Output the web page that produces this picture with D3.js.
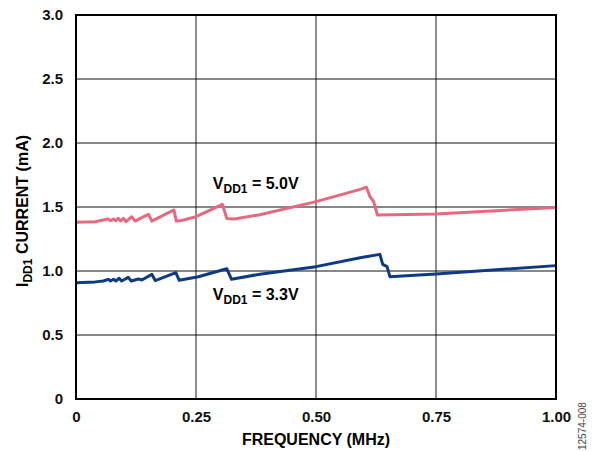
<!DOCTYPE html>
<html>
<head>
<meta charset="utf-8">
<script src="https://cdn.jsdelivr.net/npm/d3@7"></script>
<style>
  body { margin: 0; background: #fff; }
  text { font-family: Arial, "Liberation Sans", sans-serif; }
</style>
</head>
<body>
<div id="chart"></div>
<script>
// frequency (MHz) and IDD1 current (mA)
const freq5V = [0, 0.04, 0.057, 0.067, 0.072, 0.078, 0.083, 0.088, 0.093, 0.099, 0.104, 0.116, 0.123, 0.137, 0.151, 0.158, 0.204, 0.209, 0.22, 0.25, 0.305, 0.314, 0.33, 0.383, 0.5, 0.592, 0.605, 0.6125, 0.62, 0.628, 0.75, 1.0];
const curr5V = [1.38, 1.385, 1.398, 1.406, 1.393, 1.406, 1.393, 1.411, 1.391, 1.411, 1.385, 1.424, 1.39, 1.417, 1.443, 1.39, 1.477, 1.39, 1.395, 1.424, 1.521, 1.411, 1.406, 1.44, 1.542, 1.638, 1.654, 1.581, 1.542, 1.4375, 1.445, 1.497];

const freq33V = [0, 0.04, 0.057, 0.067, 0.072, 0.078, 0.083, 0.09, 0.095, 0.109, 0.115, 0.13, 0.137, 0.158, 0.165, 0.208, 0.215, 0.255, 0.314, 0.324, 0.383, 0.5, 0.592, 0.633, 0.639, 0.648, 0.654, 0.75, 1.0];
const curr33V = [0.909, 0.915, 0.922, 0.935, 0.922, 0.935, 0.922, 0.943, 0.922, 0.95, 0.922, 0.938, 0.93, 0.974, 0.925, 0.987, 0.927, 0.955, 1.018, 0.935, 0.975, 1.034, 1.104, 1.13, 1.052, 1.034, 0.956, 0.977, 1.042];

const xTicks = [0, 0.25, 0.5, 0.75, 1.0];
const xTickLabels = ["0", "0.25", "0.50", "0.75", "1.00"];
const yTicks = [0, 0.5, 1.0, 1.5, 2.0, 2.5, 3.0];
const yTickLabels = ["0", "0.5", "1.0", "1.5", "2.0", "2.5", "3.0"];

const W = 592, H = 451;
const margin = { top: 15, right: 36, bottom: 52, left: 76 };
const width = W - margin.left - margin.right,
      height = H - margin.top - margin.bottom;

const svg = d3.select("#chart").append("svg")
    .attr("width", W).attr("height", H);
const g = svg.append("g")
    .attr("transform", `translate(${margin.left},${margin.top})`);

const x = d3.scaleLinear().domain([0, 1]).range([0, width]);
const y = d3.scaleLinear().domain([0, 3]).range([height, 0]);

// vertical grid
g.selectAll(".vgrid").data(xTicks.slice(1, -1)).enter().append("line")
    .attr("x1", d => x(d)).attr("x2", d => x(d))
    .attr("y1", 0).attr("y2", height)
    .attr("stroke", "#444").attr("stroke-width", 1.2);

// horizontal grid
g.selectAll(".hgrid").data(yTicks.slice(1, -1)).enter().append("line")
    .attr("x1", 0).attr("x2", width)
    .attr("y1", d => y(d)).attr("y2", d => y(d))
    .attr("stroke", "#111").attr("stroke-width", 1.2);

const line = d3.line().x(d => x(d[0])).y(d => y(d[1]));

g.append("path")
    .datum(freq5V.map((f, i) => [f, curr5V[i]]))
    .attr("fill", "none").attr("stroke", "#E8687F")
    .attr("stroke-width", 3).attr("stroke-linejoin", "round")
    .attr("d", line);

g.append("path")
    .datum(freq33V.map((f, i) => [f, curr33V[i]]))
    .attr("fill", "none").attr("stroke", "#0E3A84")
    .attr("stroke-width", 3).attr("stroke-linejoin", "round")
    .attr("d", line);

// frame
g.append("rect")
    .attr("width", width).attr("height", height)
    .attr("fill", "none").attr("stroke", "#000").attr("stroke-width", 2);

// axes labels
const xAxis = d3.axisBottom(x).tickValues(xTicks)
    .tickFormat((d, i) => xTickLabels[i]).tickSize(0).tickPadding(12);
const xg = g.append("g").attr("transform", `translate(0,${height})`).call(xAxis);
xg.select(".domain").remove();
xg.selectAll("text").style("font-size", "15px").style("font-weight", "bold").attr("fill", "#111");

const yAxis = d3.axisLeft(y).tickValues(yTicks)
    .tickFormat((d, i) => yTickLabels[i]).tickSize(0).tickPadding(13);
const yg = g.append("g").call(yAxis);
yg.select(".domain").remove();
yg.selectAll("text").style("font-size", "15px").style("font-weight", "bold").attr("fill", "#111");

g.append("text")
    .attr("x", width / 2).attr("y", height + 46)
    .attr("text-anchor", "middle")
    .style("font-size", "16px").style("font-weight", "bold")
    .text("FREQUENCY (MHz)");

const yt = g.append("text")
    .attr("transform", "rotate(-90)")
    .attr("x", -196).attr("y", -48)
    .attr("text-anchor", "middle")
    .style("font-size", "16px").style("font-weight", "bold");
yt.append("tspan").text("I");
yt.append("tspan").attr("dy", 4).style("font-size", "12px").text("DD1");
yt.append("tspan").attr("dy", -4).text(" CURRENT (mA)");

function vddLabel(xv, yv, txt) {
    const t = g.append("text")
        .attr("x", x(xv)).attr("y", y(yv))
        .style("font-size", "16px").style("font-weight", "bold");
    t.append("tspan").text("V");
    t.append("tspan").attr("dy", 4).style("font-size", "12px").text("DD1");
    t.append("tspan").attr("dy", -4).text(txt);
}
vddLabel(0.285, 1.64, " = 5.0V");
vddLabel(0.285, 0.773, " = 3.3V");

svg.append("text")
    .attr("transform", `translate(586,${H - 1}) rotate(-90)`)
    .attr("text-anchor", "start")
    .style("font-size", "10px").attr("fill", "#444")
    .text("12574-008");
</script>
</body>
</html>
